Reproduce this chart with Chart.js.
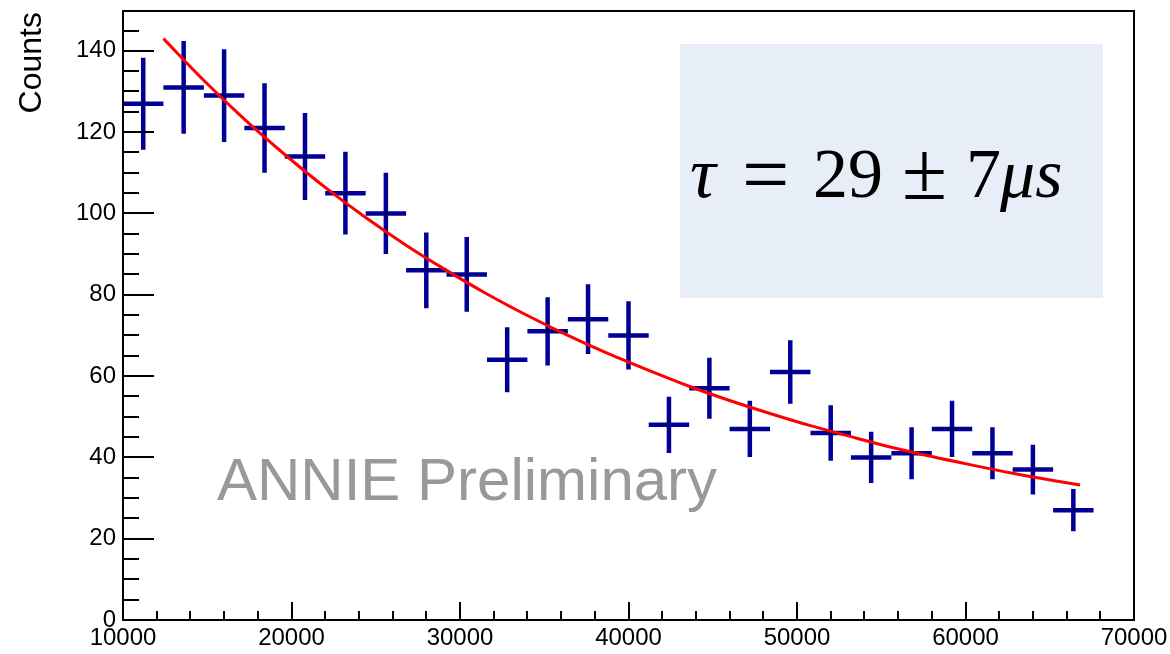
<!DOCTYPE html>
<html>
<head>
<meta charset="utf-8">
<script src="https://cdn.jsdelivr.net/npm/chart.js@4.4.1/dist/chart.umd.min.js"></script>
<style>
  html, body { margin: 0; padding: 0; background: #ffffff; }
  #wrap { width: 1170px; height: 654px; position: relative; }
</style>
</head>
<body>
<div id="wrap"><canvas id="c" width="1170" height="654"></canvas></div>
<script>
// ---- data ----
const binCenters = [11200, 13600, 16000, 18400, 20800, 23200, 25600, 28000, 30400, 32800, 35200, 37600,
                    40000, 42400, 44800, 47200, 49600, 52000, 54400, 56800, 59200, 61600, 64000, 66400];
const counts = [127, 131, 129, 121, 114, 105, 100, 86, 85, 64, 71, 74,
                70, 48, 57, 47, 61, 46, 40, 41, 47, 41, 37, 27];
const countErrors = [11.3, 11.4, 11.4, 11.0, 10.7, 10.2, 10.0, 9.3, 9.2, 8.0, 8.4, 8.6,
                     8.4, 6.9, 7.5, 6.9, 7.8, 6.8, 6.3, 6.4, 6.9, 6.4, 6.1, 5.2];
const binHalfWidth = 1200;
const fitX = [12400, 14800, 17200, 19600, 22000, 24400, 26800, 29200, 31600, 34000, 36400, 38800,
              41200, 43600, 46000, 48400, 50800, 53200, 55600, 58000, 60400, 62800, 65200, 66800];
const fitY = [143.0, 132.7, 123.2, 114.5, 106.4, 99.0, 92.2, 86.0, 80.2, 74.9, 70.0, 65.5,
              61.4, 57.5, 54.0, 50.8, 47.8, 45.1, 42.5, 40.2, 38.1, 36.1, 34.3, 33.2];
const xTickLabels = [10000, 20000, 30000, 40000, 50000, 60000, 70000];
const yTickLabels = [0, 20, 40, 60, 80, 100, 120, 140];
const yAxisTitle = "Counts";
const fitLabel = ["\u03C4", "=", "29", "\u00B1", "7", "\u03BCs"];
const watermark = "ANNIE Preliminary";

// ---- datasets built from the arrays ----
const hBars = [], vBars = [], centers = [];
binCenters.forEach((x, i) => {
  hBars.push({x: x - binHalfWidth, y: counts[i]}, {x: x + binHalfWidth, y: counts[i]}, {x: x, y: null});
  vBars.push({x: x, y: counts[i] - countErrors[i]}, {x: x, y: counts[i] + countErrors[i]}, {x: x, y: null});
  centers.push({x: x, y: counts[i]});
});
const fitData = fitX.map((x, i) => ({x: x, y: fitY[i]}));

const SANS = '"Liberation Sans", Arial, Helvetica, sans-serif';
const SERIF = '"Liberation Serif", "Times New Roman", serif';

const decor = {
  id: 'decor',
  beforeDatasetsDraw(chart) {
    const ctx = chart.ctx;
    ctx.save();
    // fit result box
    ctx.fillStyle = '#E8EEF7';
    ctx.fillRect(680, 44, 423, 254);
    // formula text
    ctx.fillStyle = '#000000';
    ctx.textBaseline = 'alphabetic';
    ctx.textAlign = 'left';
    const base = 197;
    ctx.font = 'italic 72px ' + SERIF;
    ctx.fillText(fitLabel[0], 690, base);
    ctx.font = '84px ' + SERIF;
    ctx.fillText(fitLabel[1], 742, base + 6);
    ctx.font = '70px ' + SERIF;
    ctx.fillText(fitLabel[2], 813, base);
    ctx.font = '82px ' + SERIF;
    ctx.fillText(fitLabel[3], 902, base + 2);
    ctx.font = '70px ' + SERIF;
    ctx.fillText(fitLabel[4], 966, base);
    ctx.font = 'italic 70px ' + SERIF;
    ctx.fillText(fitLabel[5], 1000, base);
    // watermark
    ctx.fillStyle = '#999999';
    ctx.font = '60px ' + SANS;
    ctx.fillText(watermark, 217, 500);
    ctx.restore();
  },
  afterDatasetsDraw(chart) {
    const ctx = chart.ctx;
    const a = chart.chartArea;
    const xs = chart.scales.x, ys = chart.scales.y;
    ctx.save();
    ctx.strokeStyle = '#000000';
    ctx.lineWidth = 2;
    ctx.beginPath();
    // x ticks (inward)
    for (let v = 10000; v <= 70000; v += 2000) {
      const px = Math.round(xs.getPixelForValue(v));
      const len = (v % 10000 === 0) ? 18 : 9;
      ctx.moveTo(px, a.bottom);
      ctx.lineTo(px, a.bottom - len);
    }
    // y ticks (inward)
    for (let v = 0; v <= 145; v += 5) {
      const py = Math.round(ys.getPixelForValue(v));
      const len = (v % 20 === 0) ? 31 : 16;
      ctx.moveTo(a.left, py);
      ctx.lineTo(a.left + len, py);
    }
    ctx.stroke();
    // frame
    ctx.lineWidth = 2;
    ctx.strokeRect(a.left, a.top, a.right - a.left, a.bottom - a.top);
    // y axis title
    ctx.fillStyle = '#000000';
    ctx.font = '32px ' + SANS;
    ctx.translate(41, 12);
    ctx.rotate(-Math.PI / 2);
    ctx.textAlign = 'right';
    ctx.textBaseline = 'alphabetic';
    ctx.fillText(yAxisTitle, 0, 0);
    ctx.restore();
  }
};

new Chart(document.getElementById('c'), {
  type: 'scatter',
  data: {
    datasets: [
      { type: 'line', data: fitData, borderColor: '#FF0000', borderWidth: 3, pointRadius: 0,
        cubicInterpolationMode: 'monotone', fill: false, order: 0 },
      { data: centers, pointRadius: 1.3, pointBackgroundColor: '#000000', pointBorderWidth: 0,
        showLine: false, order: 1 },
      { data: vBars, showLine: true, spanGaps: false, borderColor: '#000099', borderWidth: 4.5,
        pointRadius: 0, borderCapStyle: 'butt', order: 2 },
      { data: hBars, showLine: true, spanGaps: false, borderColor: '#000099', borderWidth: 4.5,
        pointRadius: 0, borderCapStyle: 'butt', order: 3 }
    ]
  },
  options: {
    responsive: false,
    animation: false,
    devicePixelRatio: 1,
    layout: { padding: { left: 0, right: 36, top: 11, bottom: 0 } },
    plugins: { legend: { display: false }, tooltip: { enabled: false }, title: { display: false } },
    scales: {
      x: {
        type: 'linear', min: 10000, max: 70000,
        grid: { display: false, drawTicks: false },
        border: { display: false },
        afterFit: s => { s.height = 34; s.paddingLeft = 0; s.paddingRight = 0; },
        afterBuildTicks: s => { s.ticks = xTickLabels.map(v => ({value: v})); },
        ticks: { color: '#000000', font: { family: SANS, size: 24 }, padding: 4,
                 maxRotation: 0, autoSkip: false, includeBounds: false,
                 callback: v => String(v) }
      },
      y: {
        type: 'linear', min: 0, max: 149.8,
        grid: { display: false, drawTicks: false },
        border: { display: false },
        afterFit: s => { s.width = 123; s.paddingTop = 0; s.paddingBottom = 0; },
        afterBuildTicks: s => { s.ticks = yTickLabels.map(v => ({value: v})); },
        ticks: { color: '#000000', font: { family: SANS, size: 24 }, padding: 7,
                 autoSkip: false, includeBounds: false,
                 callback: v => String(v) }
      }
    }
  },
  plugins: [decor]
});
</script>
</body>
</html>
